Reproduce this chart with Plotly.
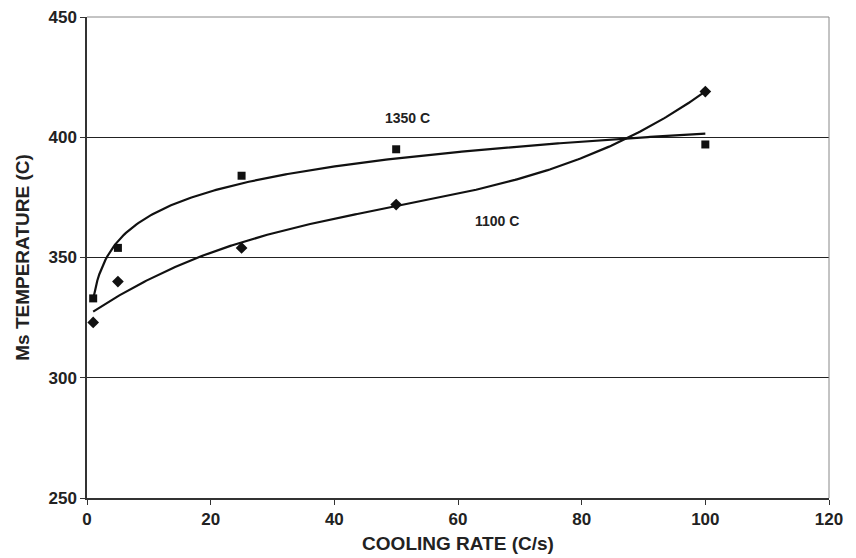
import numpy as np
import plotly.graph_objects as go

# Data
rates = [1, 5, 25, 50, 100]
ms_1350 = [333, 354, 384, 395, 397]   # squares
ms_1100 = [323, 340, 354, 372, 419]   # diamonds

x_ticks = [0, 20, 40, 60, 80, 100, 120]
y_ticks = [250, 300, 350, 400, 450]

# Trendlines (as in the original spreadsheet): log fit for 1350 C, cubic fit for 1100 C
xs = np.linspace(min(rates), max(rates), 300)
a, b = np.polyfit(np.log(rates), ms_1350, 1)
trend_1350 = a * np.log(xs) + b
p = np.polyfit(rates, ms_1100, 3)
trend_1100 = np.polyval(p, xs)

FONT = "Liberation Sans, Arial, sans-serif"

fig = go.Figure()
fig.add_trace(go.Scatter(x=xs, y=trend_1350, mode="lines",
                         line=dict(color="#111", width=2.2), hoverinfo="skip"))
fig.add_trace(go.Scatter(x=xs, y=trend_1100, mode="lines",
                         line=dict(color="#111", width=2.2), hoverinfo="skip"))
fig.add_trace(go.Scatter(x=rates, y=ms_1350, mode="markers",
                         marker=dict(symbol="square", size=8, color="#111"), name="1350 C"))
fig.add_trace(go.Scatter(x=rates, y=ms_1100, mode="markers",
                         marker=dict(symbol="diamond", size=9, color="#111"), name="1100 C"))

fig.add_annotation(x=51.8, y=408, text="<b>1350 C</b>", showarrow=False,
                   font=dict(family=FONT, size=14, color="#222"))
fig.add_annotation(x=66.3, y=365, text="<b>1100 C</b>", showarrow=False,
                   font=dict(family=FONT, size=14, color="#222"))

# top and right border (gray)
fig.add_shape(type="line", xref="paper", yref="paper", x0=0, x1=1, y0=1, y1=1,
              line=dict(color="#888", width=1))
fig.add_shape(type="line", xref="paper", yref="paper", x0=1, x1=1, y0=0, y1=1,
              line=dict(color="#888", width=1))

tickfont = dict(family=FONT, size=17, color="#222", weight="bold")
titlefont = dict(family=FONT, size=19, color="#222", weight="bold")

fig.update_layout(
    width=856, height=558,
    margin=dict(l=87, r=27, t=17, b=60),
    paper_bgcolor="white", plot_bgcolor="white",
    showlegend=False,
    xaxis=dict(range=[0, 120], tickvals=x_ticks, ticktext=[f"<b>{v}</b>" for v in x_ticks],
               ticks="outside", ticklen=5, automargin=False,
               tickcolor="#333", showline=True, linecolor="#333", linewidth=1.5,
               showgrid=False, zeroline=False, tickfont=tickfont,
               title=dict(text="<b>COOLING RATE (C/s)</b>", font=titlefont, standoff=9)),
    yaxis=dict(range=[250, 450], tickvals=y_ticks, ticktext=[f"<b>{v}</b>" for v in y_ticks],
               ticks="outside", ticklen=5, automargin=False,
               tickcolor="#333", showline=True, linecolor="#333", linewidth=1.5,
               showgrid=True, gridcolor="#222", gridwidth=1, zeroline=False,
               tickfont=tickfont,
               title=dict(text="<b>Ms TEMPERATURE (C)</b>", font=titlefont, standoff=14)),
)

fig.write_html("out.html")
